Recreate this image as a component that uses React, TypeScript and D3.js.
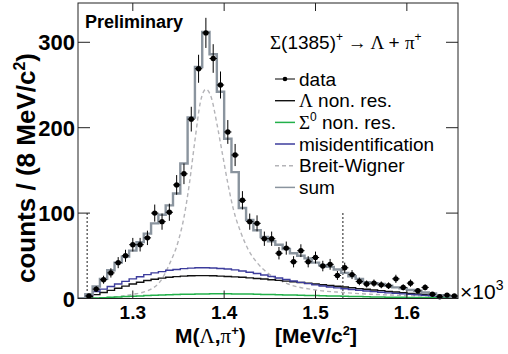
import React from 'react';
import * as d3 from 'd3';

const binStart = 1240;
const binWidth = 8;
const dataCounts: (number | null)[] = [
  null, 3, 11, 22, 30, 42, 50, 63, 63, 71, 100, 90, 101, 133, 146, 210, 269, 311, 281, 250,
  195, 168, 115, 90, 88, 70, 70, 53, 59, 43, 56, 43, 48, 38, 40, 27, 36, 28, 20, 17,
  18, 16, 15, 23, 13, 18, 9, 13, 5, 2, 4, 3,
];
const sumCounts = [
  0, 5, 14, 23, 33, 42, 49, 56, 66, 76, 88, 98, 109, 123, 158, 212, 271, 312, 286, 242,
  187, 148, 106, 92, 80, 72, 67, 63, 58, 53, 50, 47, 42, 39, 37, 34, 30, 26, 23, 19,
  18, 17, 15, 13, 12, 10, 9, 7, 6, 4, 3, 2,
];
const lambdaNonRes = [
  0, 2, 4.5, 7, 9.5, 12, 14.5, 17, 19, 21, 22.5, 23.8, 24.8, 25.6, 26.2, 26.6, 26.8, 26.8, 26.6, 26.2,
  25.8, 25.3, 24.8, 24.2, 23.5, 22.8, 22, 21.2, 20.4, 19.6, 18.8, 18, 17, 16.1, 15.2, 14.3, 13.4, 12.5, 11.6, 10.8,
  10, 9.2, 8.4, 7.6, 6.8, 6, 5.3, 4.6, 3.9, 3.2, 2.6, 2,
];
const sigma0NonRes = [
  0, 0.3, 0.7, 1, 1.4, 1.8, 2.2, 2.6, 3, 3.4, 3.8, 4.1, 4.4, 4.7, 4.9, 5.1, 5.3, 5.4, 5.5, 5.5,
  5.5, 5.4, 5.3, 5.2, 5.0, 4.8, 4.6, 4.4, 4.2, 4.0, 3.8, 3.6, 3.4, 3.2, 3.0, 2.8, 2.6, 2.4, 2.2, 2.0,
  1.9, 1.8, 1.6, 1.5, 1.4, 1.3, 1.2, 1.1, 1.0, 0.9, 0.8, 0.7,
];
const misIdentification = [
  0, 4, 8, 11, 14, 17, 20, 23, 25.5, 28, 30, 31.5, 33, 34, 35, 35.6, 36, 36, 35.7, 35.2,
  34.5, 33.5, 32.2, 30.8, 29.2, 27.5, 25.8, 24, 22.2, 20.5, 18.9, 17.4, 16, 14.7, 13.5, 12.4, 11.4, 10.5, 9.6, 8.8,
  8, 7.3, 6.6, 6, 5.4, 4.8, 4.2, 3.7, 3.2, 2.7, 2.2, 1.8,
];
const bwMass = [
  1256, 1270, 1290, 1300, 1310, 1320, 1330, 1340, 1350, 1356, 1362, 1368, 1374, 1380, 1386, 1392, 1398, 1404,
  1410, 1418, 1426, 1436, 1450, 1470, 1500, 1530, 1560, 1600, 1656,
];
const bwCounts = [
  0, 1, 3, 5, 7, 11, 20, 40, 68, 95, 135, 185, 230, 245, 235, 205, 170, 135,
  105, 78, 58, 42, 28, 17, 10, 7, 5, 3.5, 2.5,
];
const xTicks = [1300, 1400, 1500, 1600];
const xTickLabels = ['1.3', '1.4', '1.5', '1.6'];
const yTicks = [0, 100, 200, 300];
const cutLines = [1250, 1530];

const W = 508;
const H = 354;
const L = 78, R = 458, T = 3, B = 298.5;

const SANS = 'Liberation Sans, Arial, Helvetica, sans-serif';
const SERIF = 'Liberation Serif, Times New Roman, serif';

const C_SUM = '#8a949e';
const C_BLUE = '#3c3c9c';
const C_GREEN = '#22b04a';
const C_BW = '#b4b4b8';

export default function App() {
  const nBins = dataCounts.length;
  const x = d3.scaleLinear().domain([binStart, binStart + nBins * binWidth]).range([L, R]);
  const y = d3.scaleLinear().domain([0, 346]).range([B, T]);

  const stepLine = d3
    .line<[number, number]>()
    .x((d) => x(d[0]))
    .y((d) => y(d[1]))
    .curve(d3.curveStepAfter);

  const histPts = (vals: number[]): [number, number][] => {
    const pts: [number, number][] = vals.map((v, i) => [binStart + i * binWidth, v]);
    pts.push([binStart + vals.length * binWidth, vals[vals.length - 1]]);
    return pts;
  };

  const bwLine = d3
    .line<number>()
    .x((_, i) => x(bwMass[i]))
    .y((d) => y(d))
    .curve(d3.curveMonotoneX);

  const legendItems = ['data', 'lambda', 'sigma', 'mis', 'bw', 'sum'];
  const legY = [79, 100.7, 122.4, 144, 165.7, 187.4];

  return (
    <svg
      width={W}
      height={H}
      style={{ position: 'absolute', left: 0, top: 0, background: '#fff' }}
      xmlns="http://www.w3.org/2000/svg"
    >
      <defs>
        <clipPath id="plotclip">
          <rect x={L} y={T} width={R - L} height={B - T} />
        </clipPath>
      </defs>
      <rect x={0} y={0} width={W} height={H} fill="#fff" />

      {cutLines.map((c) => (
        <line key={c} x1={x(c)} x2={x(c)} y1={213} y2={B} stroke="#000" strokeWidth={0.9} strokeDasharray="2,2" />
      ))}

      <g clipPath="url(#plotclip)" fill="none">
        <path d={bwLine(bwCounts) || ''} stroke={C_BW} strokeWidth={1.4} strokeDasharray="4,3" />
        <path d={stepLine(histPts(sigma0NonRes)) || ''} stroke={C_GREEN} strokeWidth={1.5} />
        <path d={stepLine(histPts(lambdaNonRes)) || ''} stroke="#111" strokeWidth={1.4} />
        <path d={stepLine(histPts(misIdentification)) || ''} stroke={C_BLUE} strokeWidth={1.4} />
        <path d={stepLine(histPts(sumCounts)) || ''} stroke={C_SUM} strokeWidth={2.4} />
      </g>

      <g>
        {dataCounts.map((v, i) => {
          if (v === null) return null;
          const cx = x(binStart + (i + 0.5) * binWidth);
          const e = Math.sqrt(v);
          return (
            <g key={i}>
              <line x1={cx} x2={cx} y1={y(v - e)} y2={y(Math.min(v + e, 346))} stroke="#000" strokeWidth={1} />
              <line x1={x(binStart + i * binWidth)} x2={x(binStart + (i + 1) * binWidth)} y1={y(v)} y2={y(v)} stroke="#000" strokeWidth={1} />
              <circle cx={cx} cy={y(v)} r={2.7} fill="#000" />
            </g>
          );
        })}
      </g>

      <rect x={L} y={T} width={R - L} height={B - T} fill="none" stroke="#222" strokeWidth={1} />

      {xTicks.map((t) => (
        <g key={t}>
          <line x1={x(t)} x2={x(t)} y1={B} y2={B - 8} stroke="#222" strokeWidth={1} />
          <line x1={x(t)} x2={x(t)} y1={T} y2={T + 8} stroke="#222" strokeWidth={1} />
        </g>
      ))}
      {yTicks.map((t) => (
        <g key={t}>
          <line x1={L} x2={L + 12} y1={y(t)} y2={y(t)} stroke="#222" strokeWidth={1} />
          <line x1={R} x2={R - 12} y1={y(t)} y2={y(t)} stroke="#222" strokeWidth={1} />
        </g>
      ))}

      {xTicks.map((t, i) => (
        <text key={t} x={x(t)} y={318.5} textAnchor="middle" fontFamily={SANS} fontWeight="bold" fontSize={19}>
          {xTickLabels[i]}
        </text>
      ))}
      {yTicks.map((t) => (
        <text key={t} x={75} y={y(t) + 8} textAnchor="end" fontFamily={SANS} fontWeight="bold" fontSize={22}>
          {t}
        </text>
      ))}

      <text x={460} y={299} fontFamily={SANS} fontSize={21}>
        ×10<tspan dy={-9} fontSize={14}>3</tspan>
      </text>

      <text x={175} y={343} fontFamily={SANS} fontWeight="bold" fontSize={21}>
        M(<tspan fontFamily={SERIF} fontWeight="normal">Λ</tspan>,<tspan fontFamily={SERIF} fontWeight="normal">π</tspan>
        <tspan dy={-8} fontSize={13}>+</tspan>
        <tspan dy={8}>)</tspan>
      </text>
      <text x={275} y={343} fontFamily={SANS} fontWeight="bold" fontSize={21}>
        [MeV/c<tspan dy={-8} fontSize={13}>2</tspan>
        <tspan dy={8}>]</tspan>
      </text>
      <text
        transform="translate(35,283) rotate(-90)"
        fontFamily={SANS}
        fontWeight="bold"
        fontSize={26}
      >
        counts / (8 MeV/c<tspan dy={-10} fontSize={16}>2</tspan>
        <tspan dy={10}>)</tspan>
      </text>

      <text x={85} y={28} fontFamily={SANS} fontWeight="bold" fontSize={18}>
        Preliminary
      </text>

      <text x={270} y={49} fontFamily={SANS} fontSize={19}>
        <tspan fontFamily={SERIF}>Σ</tspan>(1385)<tspan dy={-8} fontSize={12}>+</tspan>
        <tspan dy={8} fontFamily={SERIF}> → Λ </tspan>+ <tspan fontFamily={SERIF}>π</tspan>
        <tspan dy={-8} fontSize={12}>+</tspan>
      </text>

      {legendItems.map((key, i) => {
        const ly = legY[i];
        const x1 = 275, x2 = 295, tx = 299;
        let sym: React.ReactNode = null;
        let label: React.ReactNode = null;
        if (key === 'data') {
          sym = (
            <g>
              <line x1={x1} x2={x2} y1={ly} y2={ly} stroke="#000" strokeWidth={1} />
              <circle cx={285} cy={ly} r={2.3} fill="#000" />
            </g>
          );
          label = 'data';
        } else if (key === 'lambda') {
          sym = <line x1={x1} x2={x2} y1={ly} y2={ly} stroke="#111" strokeWidth={1.4} />;
          label = (
            <>
              <tspan fontFamily={SERIF}>Λ</tspan> non. res.
            </>
          );
        } else if (key === 'sigma') {
          sym = <line x1={x1} x2={x2} y1={ly} y2={ly} stroke={C_GREEN} strokeWidth={1.5} />;
          label = (
            <>
              <tspan fontFamily={SERIF}>Σ</tspan>
              <tspan dy={-8} fontSize={12}>0</tspan>
              <tspan dy={8}> non. res.</tspan>
            </>
          );
        } else if (key === 'mis') {
          sym = <line x1={x1} x2={x2} y1={ly} y2={ly} stroke={C_BLUE} strokeWidth={1.5} />;
          label = 'misidentification';
        } else if (key === 'bw') {
          sym = <line x1={x1} x2={x2} y1={ly} y2={ly} stroke={C_BW} strokeWidth={1.4} strokeDasharray="4,3" />;
          label = 'Breit-Wigner';
        } else {
          sym = <line x1={x1} x2={x2} y1={ly} y2={ly} stroke={C_SUM} strokeWidth={1.5} />;
          label = 'sum';
        }
        return (
          <g key={key}>
            {sym}
            <text x={tx} y={ly + 6.5} fontFamily={SANS} fontSize={19}>
              {label}
            </text>
          </g>
        );
      })}
    </svg>
  );
}
